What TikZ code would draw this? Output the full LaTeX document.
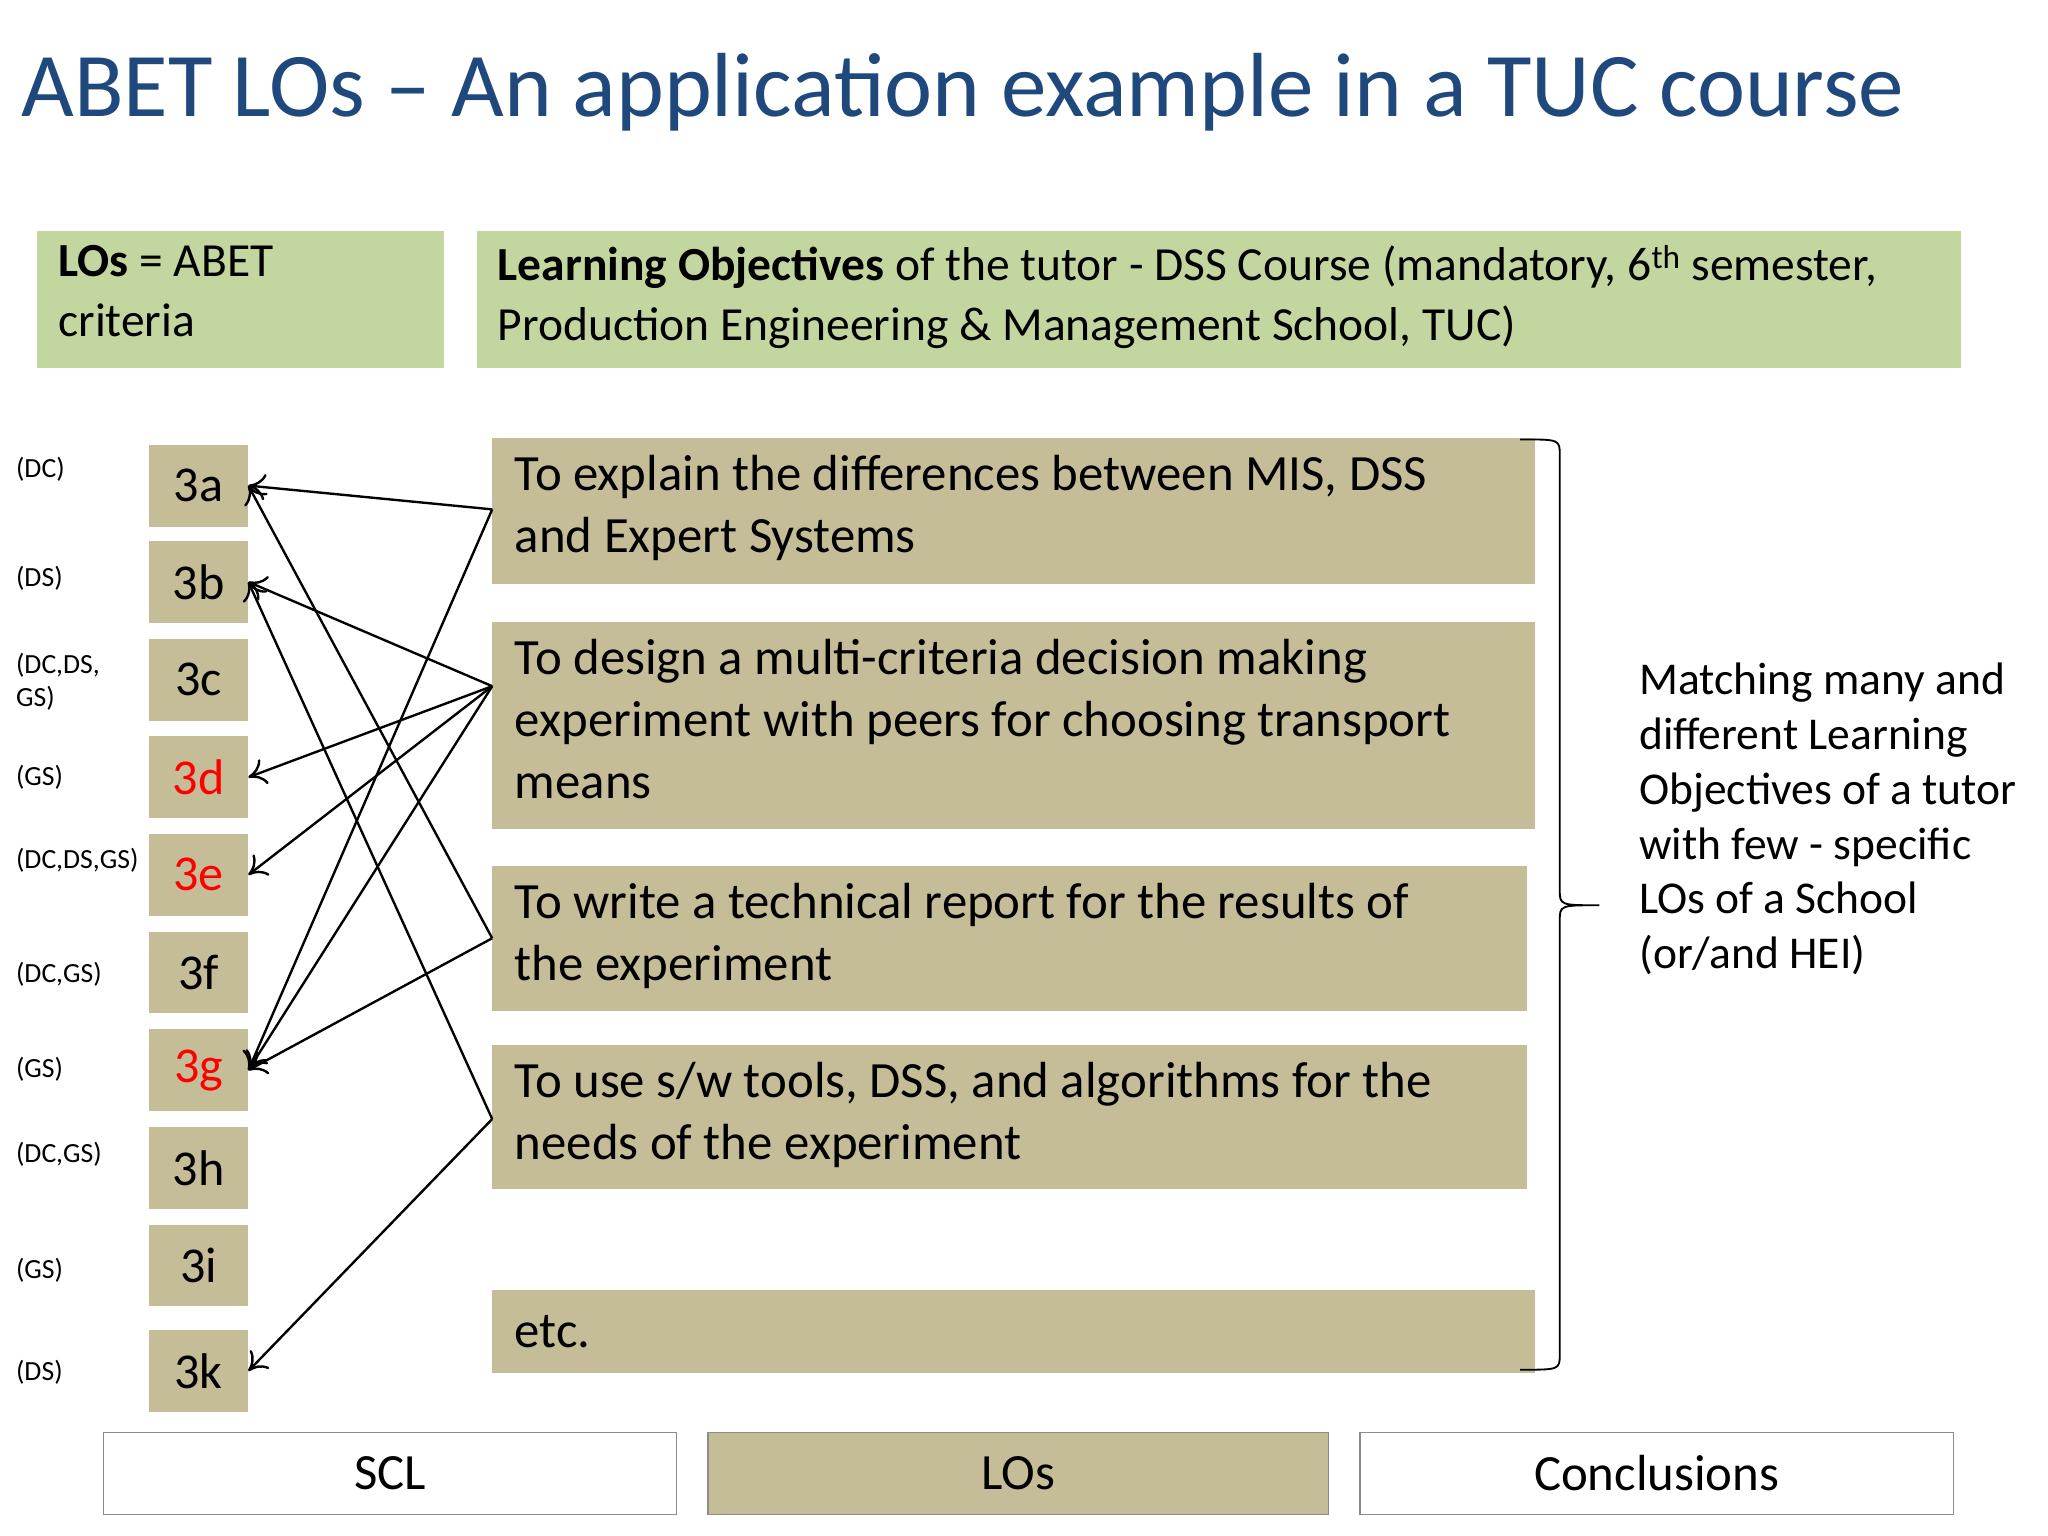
\documentclass[tikz,border=0pt]{standalone}
\usepackage{fontspec}
\setmainfont{Carlito}
\usetikzlibrary{arrows.meta}
\definecolor{grn}{HTML}{C4D6A0}
\definecolor{tan}{HTML}{C4BD97}
\definecolor{ttl}{HTML}{1F497D}
\definecolor{bord}{HTML}{8C8C8C}
\tikzset{
 lobox/.style={fill=tan,minimum height=62pt,minimum width=75pt,inner sep=0pt,font=\fontsize{38}{40}\selectfont},
 gbox/.style={fill=grn,anchor=north west,inner sep=0pt},
 obj/.style={fill=tan,anchor=north west,inner sep=0pt},
 objtext/.style={anchor=north west,align=left,font=\fontsize{38.5}{47}\selectfont,inner sep=0pt},
 tag/.style={anchor=west,align=left,font=\fontsize{21}{25}\selectfont,inner sep=0pt},
 arr/.style={-{To[length=13pt,width=20pt,line width=1.8pt]},line width=1.8pt},
 navbox/.style={draw=bord,line width=1pt,minimum height=62pt,inner sep=0pt,font=\fontsize{38.5}{40}\selectfont}
}
\begin{document}
\begin{tikzpicture}[x=1pt,y=-1pt]
\useasboundingbox (0,0) rectangle (1552,1164);
\fill[white] (0,0) rectangle (1552,1164);
\node[anchor=west,text=ttl,font=\fontsize{69}{72}\selectfont,inner sep=0pt] (title) at (16,70) {ABET LOs – An application example in a TUC course};
% header boxes
\node[gbox,minimum width=308pt,minimum height=104pt] (hb1) at (28,175) {};
\node[anchor=north west,align=left,font=\fontsize{36}{45}\selectfont,inner sep=0pt] (ht1) at (44,186) {\textbf{LOs} = ABET\\criteria};
\node[gbox,minimum width=1125pt,minimum height=104pt] (hb2) at (361,175) {};
\node[anchor=north west,align=left,font=\fontsize{36}{45}\selectfont,inner sep=0pt] (ht2) at (377,186) {\textbf{Learning Objectives} of the tutor - DSS Course (mandatory, 6\textsuperscript{th} semester,\\Production Engineering \& Management School, TUC)};
% criteria
\foreach \n/\y/\c in {a/368/black,b/441/black,c/515/black,d/589/red,e/663/red,f/737/black,g/811/red,h/885/black,i/959/black}
  \node[lobox,text=\c] (c\n) at (150.5,\y) {3\n};
\node[lobox] (ck) at (150.5,1039) {3k};
\node[tag] (ta) at (12,356) {(DC)};
\node[tag] (tb) at (12,438) {(DS)};
\node[tag] (tc) at (12,517) {(DC,DS,\\GS)};
\node[tag] (td) at (12,589) {(GS)};
\node[tag] (te) at (12,652) {(DC,DS,GS)};
\node[tag] (tf) at (12,738) {(DC,GS)};
\node[tag] (tg) at (12,810) {(GS)};
\node[tag] (th) at (12,875) {(DC,GS)};
\node[tag] (ti) at (12,963) {(GS)};
\node[tag] (tk) at (12,1040) {(DS)};
% objectives
\node[obj,minimum width=790pt,minimum height=110pt] (o1) at (373,332) {};
\node[objtext] at (390,345) {To explain the differences between MIS, DSS\\and Expert Systems};
\node[obj,minimum width=790pt,minimum height=157pt] (o2) at (373,471) {};
\node[objtext] at (390,484) {To design a multi-criteria decision making\\experiment with peers for choosing transport\\means};
\node[obj,minimum width=784pt,minimum height=110pt] (o3) at (373,656) {};
\node[objtext] at (390,669) {To write a technical report for the results of\\the experiment};
\node[obj,minimum width=784pt,minimum height=109pt] (o4) at (373,792) {};
\node[objtext] at (390,805) {To use s/w tools, DSS, and algorithms for the\\needs of the experiment};
\node[obj,minimum width=790pt,minimum height=63pt] (o5) at (373,977) {};
\node[objtext,anchor=west] at (390,1009) {etc.};
% connector origins
\coordinate (p1) at (373,386);
\coordinate (p2) at (373,520);
\coordinate (p3) at (373,711);
\coordinate (p4) at (373,848);
\draw[arr] (p1) -- (ca.east);
\draw[arr] (p1) -- (cg.east);
\draw[arr] (p2) -- (cb.east);
\draw[arr] (p2) -- (cd.east);
\draw[arr] (p2) -- (ce.east);
\draw[arr] (p2) -- (cg.east);
\draw[arr] (p3) -- (ca.east);
\draw[arr] (p3) -- (cg.east);
\draw[arr] (p4) -- (cb.east);
\draw[arr] (p4) -- (ck.east);
% brace
\coordinate (bt) at (1212,686);
\draw[line width=1.4pt] (1152,333) .. controls (1182,333) .. (1182,345) -- (1182,674) .. controls (1182,686) .. (bt) .. controls (1182,686) .. (1182,698) -- (1182,1026) .. controls (1182,1038) .. (1152,1038);
\node[anchor=north west,align=left,font=\fontsize{34.5}{41.6}\selectfont,inner sep=0pt] (side) at (1242,502) {Matching many and\\different Learning\\Objectives of a tutor\\with few - specific\\LOs of a School\\(or/and HEI)};
% nav
\node[navbox,anchor=north west,minimum width=434pt] (scl) at (78,1085) {SCL};
\node[navbox,anchor=north west,minimum width=470pt,fill=tan] (los) at (536,1085) {LOs};
\node[navbox,anchor=north west,minimum width=450pt] (conc) at (1030,1085) {Conclusions};
\end{tikzpicture}
\end{document}
